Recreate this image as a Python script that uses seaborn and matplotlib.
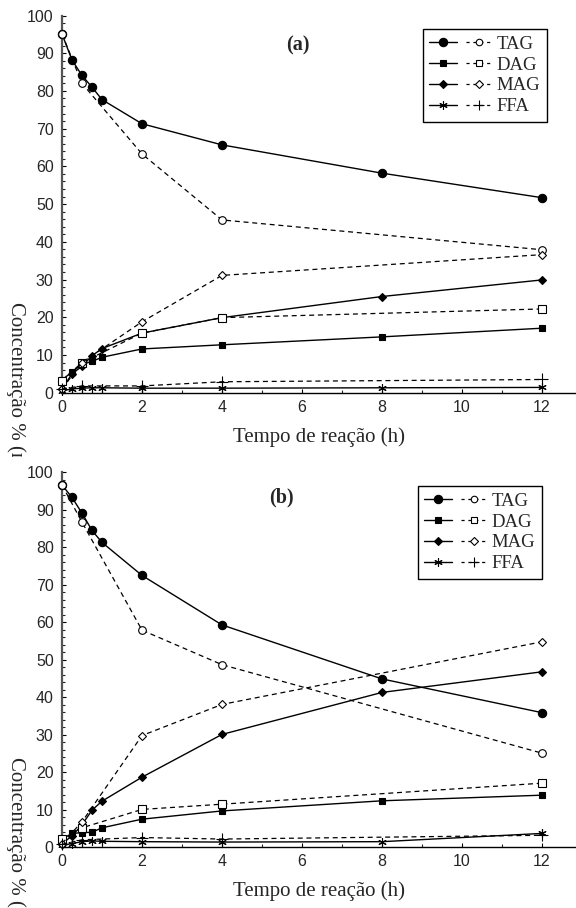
import numpy as np
import pandas as pd
import matplotlib
matplotlib.use("Agg")
import matplotlib.pyplot as plt
import seaborn as sns
from matplotlib.legend_handler import HandlerTuple
from matplotlib.lines import Line2D
from matplotlib.transforms import Bbox, TransformedBbox

# ---------------- data ----------------
t_solid = [0, 0.25, 0.5, 0.75, 1, 2, 4, 8, 12]
t_dash = [0, 0.5, 2, 4, 12]
species = ["TAG", "DAG", "MAG", "FFA"]

a_tag_s = [95.1, 88.2, 84.1, 81.0, 77.7, 71.3, 65.7, 58.2, 51.7]
a_tag_d = [95.1, 82.0, 63.3, 45.8, 37.9]
a_dag_s = [3.4, 5.5, 7.5, 8.3, 9.4, 11.6, 12.7, 14.8, 17.1]
a_dag_d = [3.2, 8.0, 15.8, 19.9, 22.2]
a_mag_s = [1.0, 5.0, 7.0, 9.8, 11.7, 15.8, 19.9, 25.5, 29.9]
a_mag_d = [1.0, 8.0, 18.8, 31.1, 36.6]
a_ffa_s = [0.5, 1.0, 1.2, 1.3, 1.3, 1.2, 1.2, 1.3, 1.4]
a_ffa_d = [1.0, 1.8, 1.8, 2.9, 3.5]

b_tag_s = [96.6, 93.3, 89.1, 84.5, 81.3, 72.5, 59.3, 44.9, 35.9]
b_tag_d = [96.6, 86.7, 57.9, 48.7, 25.1]
b_dag_s = [2.2, 3.7, 3.9, 4.0, 5.2, 7.5, 9.7, 12.4, 13.9]
b_dag_d = [2.2, 5.2, 10.1, 11.5, 17.1]
b_mag_s = [1.0, 3.0, 6.0, 9.9, 12.3, 18.7, 30.1, 41.3, 46.8]
b_mag_d = [1.0, 6.8, 29.8, 38.1, 54.8]
b_ffa_s = [0.5, 1.0, 1.5, 1.7, 1.6, 1.5, 1.4, 1.5, 3.7]
b_ffa_d = [0.8, 2.0, 2.6, 2.2, 3.2]

panel_labels = ["(a)", "(b)"]
x_ticks = [0, 2, 4, 6, 8, 10, 12]
y_ticks = [0, 10, 20, 30, 40, 50, 60, 70, 80, 90, 100]
xlabel = "Tempo de reação (h)"
ylabel = "Concentração % (m/m)"

# ---------------- style ----------------
sns.set_style("ticks")
plt.rcParams["font.family"] = ["Liberation Serif", "DejaVu Serif"]

solid_style = {
    "TAG": dict(marker="o", markersize=6),
    "DAG": dict(marker="s", markersize=5),
    "MAG": dict(marker="D", markersize=4.2),
    "FFA": dict(marker=(6, 2, 0), markersize=6),
}
dash_style = {
    "TAG": dict(marker="o", markersize=5.5),
    "DAG": dict(marker="s", markersize=5.5),
    "MAG": dict(marker="D", markersize=4.5),
    "FFA": dict(marker="+", markersize=8),
}

W, H = 576, 908
fig = plt.figure(figsize=(W / 100, H / 100), dpi=100)
ax_a = fig.add_axes([62 / W, 1 - 392.7 / H, (W - 62) / W, 377.2 / H])
ax_b = fig.add_axes([62 / W, 1 - 847.3 / H, (W - 62) / W, 375.0 / H])


def draw(ax, solid, dashed):
    for sp in species:
        st = solid_style[sp]
        sns.lineplot(x=t_solid, y=solid[sp], ax=ax, color="k", lw=1.0,
                     linestyle="-", marker=st["marker"], markersize=st["markersize"],
                     markerfacecolor="k", markeredgecolor="k", markeredgewidth=0.8,
                     estimator=None, sort=False, errorbar=None)
        ln = ax.lines[-1]
        ln.set_clip_on(False)
        ln.set_zorder(3)
    for sp in species:
        st = dash_style[sp]
        sns.lineplot(x=t_dash, y=dashed[sp], ax=ax, color="k", lw=0.9,
                     marker=st["marker"], markersize=st["markersize"],
                     markerfacecolor="white", markeredgecolor="k", markeredgewidth=0.8,
                     estimator=None, sort=False, errorbar=None)
        ln = ax.lines[-1]
        ln.set_linestyle((0, (4, 3)))
        ln.set_clip_on(False)
        ln.set_zorder(4)

    ax.set_xlim(0, 12.85)
    ax.set_ylim(0, 100)
    ax.set_xticks(x_ticks)
    ax.set_xticks(np.arange(0, 13, 1), minor=True)
    ax.set_yticks(y_ticks)
    ax.set_yticks(np.arange(0, 101, 2), minor=True)
    ax.tick_params(axis="both", which="major", direction="in", length=3, width=0.8,
                   labelsize=11.5, color="k")
    ax.tick_params(axis="both", which="minor", direction="in", length=2, width=0.8)
    ax.tick_params(axis="x", pad=5)
    ax.tick_params(axis="y", pad=6)
    for lab in ax.get_xticklabels() + ax.get_yticklabels():
        lab.set_fontfamily("Liberation Sans")
    sns.despine(ax=ax)
    ax.spines["left"].set_linewidth(1.6)
    ax.spines["left"].set_color("#555555")
    ax.spines["bottom"].set_linewidth(1.0)
    ax.spines["bottom"].set_color("k")
    ax.set_ylabel("")
    ax.set_xlabel(xlabel, fontsize=15, labelpad=9)
    ax.set_facecolor("white")


draw(ax_a,
     dict(TAG=a_tag_s, DAG=a_dag_s, MAG=a_mag_s, FFA=a_ffa_s),
     dict(TAG=a_tag_d, DAG=a_dag_d, MAG=a_mag_d, FFA=a_ffa_d))
draw(ax_b,
     dict(TAG=b_tag_s, DAG=b_dag_s, MAG=b_mag_s, FFA=b_ffa_s),
     dict(TAG=b_tag_d, DAG=b_dag_d, MAG=b_mag_d, FFA=b_ffa_d))

# legends
def legend_handles():
    hs = []
    for sp in species:
        s = solid_style[sp]
        d = dash_style[sp]
        h1 = Line2D([], [], color="k", lw=1.0, marker=s["marker"], markersize=s["markersize"],
                    markerfacecolor="k", markeredgecolor="k", markeredgewidth=0.8)
        h2 = Line2D([], [], color="k", lw=0.9, linestyle=(0, (2.5, 3)), marker=d["marker"],
                    markersize=d["markersize"] * 0.85, markerfacecolor="white",
                    markeredgecolor="k", markeredgewidth=0.8)
        hs.append((h1, h2))
    return hs


for ax, anchor in [(ax_a, (547 / W, 1 - 29 / H)), (ax_b, (542 / W, 1 - 486 / H))]:
    leg = ax.legend(legend_handles(), species, loc="upper right",
                    bbox_to_anchor=anchor, bbox_transform=fig.transFigure,
                    handler_map={tuple: HandlerTuple(ndivide=None, pad=0.5)},
                    handlelength=3.4, handletextpad=0.2, labelspacing=0.2,
                    borderpad=0.35, borderaxespad=0, fontsize=13.5,
                    frameon=True, fancybox=False, framealpha=1, edgecolor="k")
    leg.get_frame().set_linewidth(1.0)

# panel labels
fig.text(298 / W, 1 - 45 / H, panel_labels[0], fontsize=14.5, fontweight="bold",
         ha="center", va="center")
fig.text(281 / W, 1 - 497 / H, panel_labels[1], fontsize=14.5, fontweight="bold",
         ha="center", va="center")

# y labels (offset downward, as in the reference)
t1 = fig.text(16 / W, 1 - 302 / H, ylabel, rotation=-90, va="top", ha="center", fontsize=15)
t1.set_clip_box(TransformedBbox(Bbox([[0, 1 - 457 / H], [1, 1]]), fig.transFigure))
t1.set_clip_on(True)
fig.text(16 / W, 1 - 757 / H, ylabel, rotation=-90, va="top", ha="center", fontsize=15)

fig.savefig("out.png", dpi=100, facecolor="white")
